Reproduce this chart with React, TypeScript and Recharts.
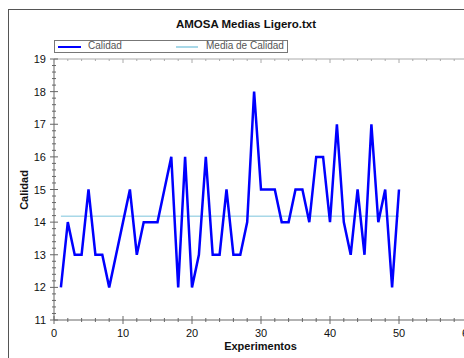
import React from "react";
import { LineChart, Line, XAxis, YAxis } from "recharts";

// numero de experimento (eje X)
const experimentos = [
  1, 2, 3, 4, 5, 6, 7, 8, 9, 10,
  11, 12, 13, 14, 15, 16, 17, 18, 19, 20,
  21, 22, 23, 24, 25, 26, 27, 28, 29, 30,
  31, 32, 33, 34, 35, 36, 37, 38, 39, 40,
  41, 42, 43, 44, 45, 46, 47, 48, 49, 50,
];

// calidad obtenida en cada experimento
const calidad = [
  12, 14, 13, 13, 15, 13, 13, 12, 13, 14,
  15, 13, 14, 14, 14, 15, 16, 12, 16, 12,
  13, 16, 13, 13, 15, 13, 13, 14, 18, 15,
  15, 15, 14, 14, 15, 15, 14, 16, 16, 14,
  17, 14, 13, 15, 13, 17, 14, 15, 12, 15,
];

const mediaCalidad = 14.18;

const xTickLabels = [0, 10, 20, 30, 40, 50, 60];
const yTickLabels = [11, 12, 13, 14, 15, 16, 17, 18, 19];

// minor ticks: every 2 on X, every 0.2 on Y
const xTicks: number[] = [];
for (let v = 0; v <= 60; v += 2) xTicks.push(v);
const yTicks: number[] = [];
for (let i = 0; i <= 40; i++) yTicks.push(Math.round((11 + i * 0.2) * 10) / 10);

const data = experimentos.map((x, i) => ({
  x,
  calidad: calidad[i],
  media: mediaCalidad,
}));

const FONT = '"Liberation Sans", Arial, sans-serif';
const AXIS = "#666";
const AXIS_LIGHT = "#aaa";

const isMajorX = (v: number) => xTickLabels.includes(v);
const isMajorY = (v: number) => yTickLabels.some((t) => Math.abs(t - v) < 1e-6);

const BottomTick = ({ x, y, payload }: any) => {
  const major = isMajorX(payload.value);
  const h = major ? 4 : 2;
  return (
    <g>
      <line x1={x} x2={x} y1={y - h} y2={y + h} stroke={AXIS} />
      {major && (
        <text x={x} y={y + 17} textAnchor="middle" fontSize={11} fontFamily={FONT} fill="#111">
          {payload.value}
        </text>
      )}
    </g>
  );
};

const LeftTick = ({ x, y, payload }: any) => {
  const major = isMajorY(payload.value);
  const h = major ? 4 : 2;
  return (
    <g>
      <line x1={x - h} x2={x + h} y1={y} y2={y} stroke={AXIS} />
      {major && (
        <text x={x - 8} y={y + 4} textAnchor="end" fontSize={11} fontFamily={FONT} fill="#111">
          {Math.round(payload.value)}
        </text>
      )}
    </g>
  );
};

const TopTick = ({ x, y, payload }: any) => {
  const h = isMajorX(payload.value) ? 4 : 2;
  return <line x1={x} x2={x} y1={y} y2={y + h} stroke={AXIS_LIGHT} />;
};

const RightTick = ({ x, y, payload }: any) => {
  const h = isMajorY(payload.value) ? 4 : 2;
  return <line x1={x - h} x2={x} y1={y} y2={y} stroke={AXIS_LIGHT} />;
};

export default function App() {
  return (
    <div style={{ position: "absolute", left: 0, top: 0, width: 464, height: 358, overflow: "hidden", background: "#fff", fontFamily: FONT }}>
      {/* marco */}
      <div style={{ position: "absolute", left: 8, top: 9, width: 520, height: 420, border: "1px solid #555" }} />

      {/* titulo */}
      <div style={{ position: "absolute", left: 0, width: 492, top: 18, textAlign: "center", fontWeight: "bold", fontSize: 11.5, color: "#111" }}>
        AMOSA Medias Ligero.txt
      </div>

      {/* leyenda */}
      <div style={{ position: "absolute", left: 54, top: 40, width: 232, height: 11, border: "1px solid #777", fontSize: 10, color: "#555" }}>
        <div style={{ position: "absolute", left: 3, top: 5, width: 23, height: 2, background: "#0000ff" }} />
        <div style={{ position: "absolute", left: 33, top: -1, lineHeight: "12px" }}>Calidad</div>
        <div style={{ position: "absolute", left: 121, top: 5, width: 22, height: 2, background: "#a8d8e8" }} />
        <div style={{ position: "absolute", left: 151, top: -1, lineHeight: "12px" }}>Media de Calidad</div>
      </div>

      <div style={{ position: "absolute", left: 0, top: 0 }}>
        <LineChart width={500} height={380} data={data} margin={{ top: 49, right: 22, bottom: 30, left: 14 }}>
          <XAxis dataKey="x" type="number" domain={[0, 60]} ticks={xTicks} interval={0} height={30} tickSize={0} tickMargin={0} tickLine={false} axisLine={{ stroke: AXIS }} tick={<BottomTick />} allowDataOverflow />
          <XAxis xAxisId="top" orientation="top" dataKey="x" type="number" domain={[0, 60]} ticks={xTicks} interval={0} height={10} tickSize={0} tickMargin={0} tickLine={false} axisLine={{ stroke: AXIS_LIGHT }} tick={<TopTick />} />
          <YAxis type="number" domain={[11, 19]} ticks={yTicks} interval={0} width={40} tickSize={0} tickMargin={0} tickLine={false} axisLine={{ stroke: AXIS }} tick={<LeftTick />} allowDataOverflow />
          <YAxis yAxisId="right" orientation="right" type="number" domain={[11, 19]} ticks={yTicks} interval={0} width={10} tickSize={0} tickMargin={0} tickLine={false} axisLine={{ stroke: AXIS_LIGHT }} tick={<RightTick />} />
          <Line type="linear" dataKey="media" stroke="#a8d8e8" strokeWidth={1.5} dot={false} activeDot={false} isAnimationActive={false} />
          <Line type="linear" dataKey="calidad" stroke="#0000ff" strokeWidth={2.5} dot={false} activeDot={false} isAnimationActive={false} />
        </LineChart>
      </div>

      {/* titulos de ejes */}
      <div style={{ position: "absolute", left: 0, width: 521, top: 340, textAlign: "center", fontWeight: "bold", fontSize: 11, color: "#111" }}>
        Experimentos
      </div>
      <div style={{ position: "absolute", left: 24, top: 190, transform: "translate(-50%, -50%) rotate(-90deg)", fontWeight: "bold", fontSize: 11, color: "#111", whiteSpace: "nowrap" }}>
        Calidad
      </div>
    </div>
  );
}
